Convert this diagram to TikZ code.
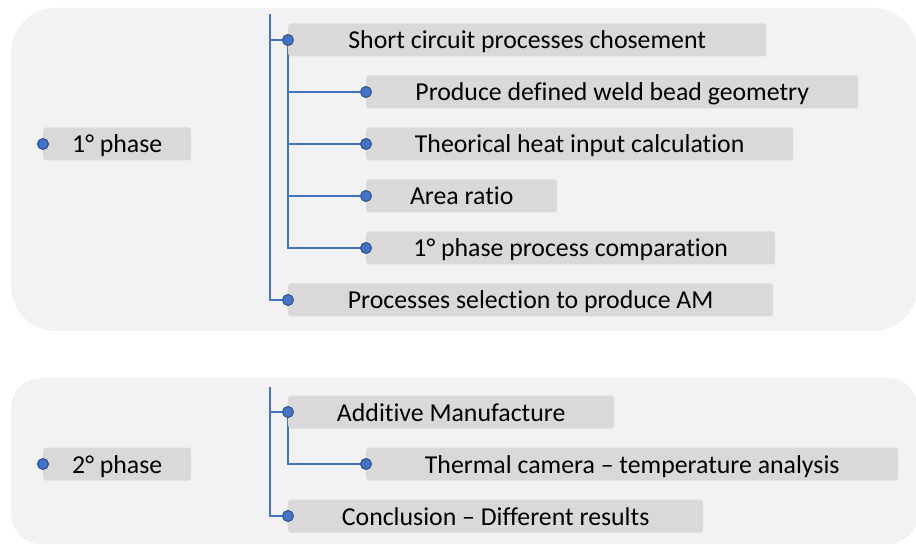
\documentclass[tikz,border=0pt]{standalone}
\usepackage{fontspec}
\setmainfont[Ligatures={NoCommon}]{Carlito}
\definecolor{panelgray}{HTML}{F2F2F2}
\definecolor{boxgray}{HTML}{D9D9D9}
\definecolor{lineblue}{HTML}{4472C4}
\definecolor{dotborder}{HTML}{2F528F}
\pgfdeclarelayer{bg}
\pgfdeclarelayer{lines}
\pgfsetlayers{bg,lines,main}
\tikzset{
  panel/.style={fill=panelgray, draw=none},
  box/.style={fill=boxgray, rounded corners=3pt, minimum height=33pt, inner sep=0pt, anchor=west,
    text height=21pt, text depth=3pt,
    font=\fontsize{25.8}{28}\selectfont, text=black},
  dot/.style={circle, fill=lineblue, draw=dotborder, line width=1pt, minimum size=11pt, inner sep=0pt},
  link/.style={draw=lineblue, line width=2.4pt},
}
\begin{document}
\begin{tikzpicture}[x=1pt,y=-1pt]
\useasboundingbox (0,0) rectangle (916,545);
\begin{pgfonlayer}{bg}
\clip (0,0) rectangle (916,545);
\fill[panel, rounded corners=45pt] (11,8) rectangle (918,331);
\fill[panel, rounded corners=30pt] (11,378) rectangle (918,544);
\end{pgfonlayer}
% phase 1
\node[box, minimum width=148pt] (p1) at (43,144) {1° phase};
\node[box, minimum width=478pt] (b1) at (288,40) {Short circuit processes chosement};
\node[box, minimum width=492pt] (b2) at (366,92) {Produce defined weld bead geometry};
\node[box, minimum width=427pt] (b3) at (366,144) {Theorical heat input calculation};
\node[box, minimum width=191pt] (b4) at (366,196) {Area ratio};
\node[box, minimum width=409pt] (b5) at (366,248) {1° phase process comparation};
\node[box, minimum width=485pt] (b6) at (288,300) {Processes selection to produce AM};
\node[dot] (dp1) at (p1.west) {};
\node[dot] (d1) at (b1.west) {};
\node[dot] (d2) at (b2.west) {};
\node[dot] (d3) at (b3.west) {};
\node[dot] (d4) at (b4.west) {};
\node[dot] (d5) at (b5.west) {};
\node[dot] (d6) at (b6.west) {};
\coordinate (t1) at (270,14);
% phase 2
\node[box, minimum width=148pt] (p2) at (43,464) {2° phase};
\node[box, minimum width=326pt] (c1) at (288,412) {Additive Manufacture};
\node[box, minimum width=532pt] (c2) at (366,464) {Thermal camera – temperature analysis};
\node[box, minimum width=415pt] (c3) at (288,516) {Conclusion – Different results};
\node[dot] (dp2) at (p2.west) {};
\node[dot] (e1) at (c1.west) {};
\node[dot] (e2) at (c2.west) {};
\node[dot] (e3) at (c3.west) {};
\coordinate (t2) at (270,387);
\begin{pgfonlayer}{lines}
\draw[link] (t1) |- (d6.center);
\draw[link] (t1 |- d1) -- (d1.center);
\draw[link] (d1.center) |- (d5.center);
\draw[link] (d1 |- d2) -- (d2.center);
\draw[link] (d1 |- d3) -- (d3.center);
\draw[link] (d1 |- d4) -- (d4.center);
\draw[link] (t2) |- (e3.center);
\draw[link] (t2 |- e1) -- (e1.center);
\draw[link] (e1.center) |- (e2.center);
\end{pgfonlayer}
\end{tikzpicture}
\end{document}
